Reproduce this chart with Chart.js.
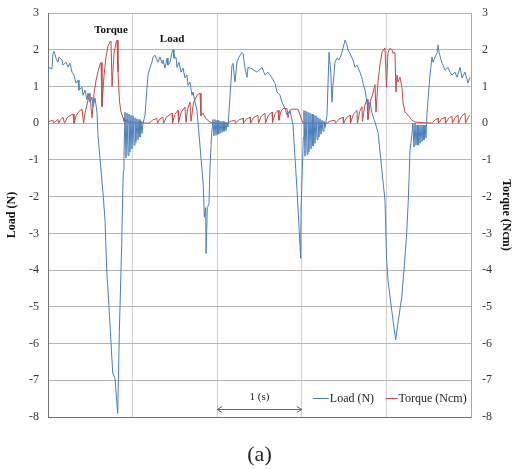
<!DOCTYPE html>
<html>
<head>
<meta charset="utf-8">
<script src="https://cdn.jsdelivr.net/npm/chart.js@4/dist/chart.umd.min.js"></script>
<style>
  html, body { margin: 0; padding: 0; background: #fff; }
  #wrap { width: 513px; height: 469px; }
</style>
</head>
<body>
<div id="wrap"><canvas id="chart" width="513" height="469"></canvas></div>
<script>
'use strict';

// ── Data (time in s, load in N, torque in Ncm) ──
const loadTime = [
  0.000, 0.006, 0.047, 0.059, 0.071, 0.095, 0.118, 0.130, 0.165, 0.177, 0.213, 0.236, 0.260, 0.284,
  0.307, 0.331, 0.355, 0.366, 0.402, 0.414, 0.437, 0.461, 0.473, 0.496, 0.520, 0.532, 0.556, 0.579,
  0.591, 0.650, 0.674, 0.694, 0.721, 0.765, 0.792, 0.824, 0.843, 0.871, 0.881, 0.890, 0.898,
  0.910, 0.922, 0.934, 0.946, 0.957, 0.969, 0.981, 0.993, 1.005, 1.017, 1.028, 1.040, 1.052, 1.064,
  1.076, 1.087, 1.099, 1.111, 1.123,
  1.147, 1.170, 1.182, 1.206, 1.229, 1.241, 1.265, 1.288, 1.300, 1.324, 1.348, 1.359, 1.383, 1.407,
  1.418, 1.442, 1.466, 1.478, 1.489, 1.513, 1.525, 1.548, 1.572, 1.596, 1.619, 1.643, 1.655, 1.678,
  1.702, 1.714, 1.738, 1.761, 1.773,
  1.836, 1.848, 1.864, 1.868, 1.883, 1.903, 1.915, 1.935, 1.950,
  1.962, 1.974, 1.986, 1.998, 2.009, 2.021, 2.033, 2.045, 2.057, 2.069, 2.080, 2.092, 2.104, 2.116, 2.128,
  2.175, 2.187, 2.210, 2.234, 2.258, 2.293, 2.305, 2.329, 2.352, 2.364, 2.411, 2.470, 2.530, 2.565,
  2.600, 2.648, 2.683, 2.707, 2.742, 2.766, 2.801, 2.825, 2.860, 2.896,
  2.943, 2.987, 2.991, 3.006, 3.018,
  3.026, 3.038, 3.050, 3.062, 3.073, 3.085, 3.097, 3.109, 3.121, 3.132, 3.144, 3.156, 3.168, 3.180,
  3.191, 3.203, 3.215, 3.227, 3.239, 3.251, 3.262, 3.274,
  3.298, 3.322, 3.345, 3.357, 3.369, 3.392, 3.416, 3.440, 3.463, 3.487, 3.511, 3.534, 3.546, 3.570,
  3.605, 3.629, 3.652, 3.688, 3.711, 3.723, 3.747, 3.771, 3.782, 3.806, 3.830, 3.865, 3.901,
  3.983, 4.003, 4.019, 4.063, 4.110, 4.141, 4.181, 4.208, 4.240, 4.259, 4.279, 4.302,
  4.314, 4.326, 4.338, 4.350, 4.362, 4.373, 4.385, 4.397, 4.409, 4.421, 4.433, 4.444, 4.456, 4.468,
  4.480, 4.515, 4.539, 4.551, 4.574, 4.598, 4.610, 4.622, 4.657, 4.669, 4.693, 4.728, 4.752, 4.775,
  4.811, 4.835, 4.870, 4.894, 4.929, 4.965, 4.988
];
const loadValue = [
  1.39, 1.52, 1.48, 1.90, 1.96, 1.77, 1.66, 1.80, 1.72, 1.58, 1.66, 1.53, 1.63, 1.39,
  1.31, 1.09, 1.17, 0.90, 0.98, 0.76, 0.90, 0.63, 0.82, 0.57, 0.71, 0.44, 0.68, 0.30,
  -0.33, -1.90, -2.64, -4.00, -5.00, -6.80, -6.95, -7.90, -5.70, -3.30, -2.10, -1.30, -0.90,
  0.30, -0.95, 0.28, -0.88, 0.25, -0.78, 0.22, -0.70, 0.20, -0.60, 0.15, -0.52, 0.12, -0.45,
  0.10, -0.38, 0.06, -0.28, 0.00,
  0.22, 0.95, 1.31, 1.52, 1.66, 1.80, 1.85, 1.72, 1.66, 1.80, 1.63, 1.72, 1.50, 1.77,
  1.58, 1.66, 1.93, 2.00, 1.77, 1.80, 1.52, 1.66, 1.39, 1.50, 1.23, 1.31, 1.03, 1.12,
  0.76, 0.85, 0.57, 0.35, 0.03,
  -1.70, -2.56, -2.30, -3.55, -2.30, -2.20, -1.20, -0.27, 0.10,
  -0.35, 0.10, -0.33, 0.08, -0.30, 0.07, -0.28, 0.05, -0.25, 0.05, -0.22, 0.03, -0.20, 0.02, -0.10,
  1.58, 1.63, 1.12, 1.66, 1.80, 1.93, 1.90, 1.50, 1.25, 1.52, 1.48, 1.39, 1.52, 1.31,
  1.39, 1.23, 1.09, 0.85, 0.76, 0.57, 0.40, 0.22, 0.35, -0.05,
  -1.80, -3.68, -2.37, -1.28, -0.38,
  0.35, -0.90, 0.33, -0.85, 0.30, -0.78, 0.28, -0.70, 0.25, -0.62, 0.22, -0.55, 0.20, -0.45,
  0.15, -0.38, 0.12, -0.30, 0.08, -0.22, 0.05, -0.12,
  0.22, 1.93, 1.30, 0.57, 1.03, 1.66, 1.77, 1.72, 1.85, 2.04, 2.26, 2.13, 2.00, 1.90,
  1.72, 1.52, 1.58, 1.39, 1.23, 1.09, 0.90, 0.57, 0.49, 0.57, 0.27, 0.03, -0.25,
  -2.10, -3.73, -4.28, -5.10, -5.90, -5.37, -4.74, -4.00, -3.00, -2.10, -0.74, -0.30,
  0.00, -0.65, 0.00, -0.60, -0.05, -0.60, -0.05, -0.55, -0.05, -0.50, -0.05, -0.45, -0.05, -0.40,
  0.27, 1.31, 1.80, 1.66, 1.80, 1.90, 2.13, 1.93, 1.63, 1.58, 1.44, 1.52, 1.39, 1.31,
  1.39, 1.25, 1.52, 1.23, 1.39, 1.09, 1.25
];

const torqueTime = [
  0.000, 0.030, 0.059, 0.065, 0.095, 0.118, 0.125, 0.150, 0.177, 0.195, 0.225, 0.260, 0.296, 0.307,
  0.335, 0.370, 0.402, 0.420, 0.440, 0.473, 0.496, 0.508, 0.520, 0.544, 0.567, 0.591, 0.615, 0.627,
  0.638, 0.662, 0.686, 0.709, 0.733, 0.745, 0.757, 0.780, 0.804, 0.816, 0.827, 0.845, 0.863, 0.887,
  0.898, 0.910, 0.922, 0.934, 0.946, 0.969, 0.981, 1.005, 1.028, 1.087, 1.147,
  1.194, 1.240, 1.288, 1.294, 1.320, 1.359, 1.365, 1.405, 1.466, 1.472, 1.500, 1.537, 1.543, 1.575,
  1.619, 1.631, 1.650, 1.678, 1.690, 1.720, 1.761, 1.797, 1.808, 1.832, 1.868, 1.915, 1.950,
  2.128, 2.170, 2.210, 2.216, 2.255, 2.305, 2.311, 2.345, 2.388, 2.394, 2.430, 2.482, 2.488, 2.520,
  2.565, 2.571, 2.605, 2.648, 2.654, 2.685, 2.719, 2.730, 2.750, 2.778, 2.825, 2.837, 2.855, 2.872,
  2.955, 3.014,
  3.298, 3.340, 3.392, 3.398, 3.440, 3.487, 3.493, 3.530, 3.570, 3.576, 3.610, 3.652, 3.658, 3.685,
  3.711, 3.717, 3.745, 3.771, 3.782, 3.810, 3.842, 3.865, 3.877, 3.900, 3.924, 3.948, 3.983, 4.001,
  4.019, 4.042, 4.066, 4.078, 4.101, 4.113, 4.125, 4.137, 4.161, 4.184, 4.196, 4.220, 4.255, 4.302,
  4.338,
  4.539, 4.575, 4.610, 4.616, 4.650, 4.693, 4.699, 4.735, 4.775, 4.781, 4.810, 4.846, 4.852, 4.890,
  4.929, 4.935, 4.965, 4.988
];
const torqueValue = [
  0.03, 0.06, 0.08, 0.00, 0.07, 0.10, 0.00, 0.10, 0.16, 0.00, 0.14, 0.21, 0.25, 0.00,
  0.22, 0.33, 0.38, 0.00, 0.30, 0.62, 0.82, 0.45, 0.15, 0.80, 1.15, 1.40, 1.60, 1.65,
  0.45, 1.30, 1.80, 2.10, 2.22, 2.23, 1.00, 1.90, 2.20, 2.26, 1.40, 0.60, 0.30, 0.15,
  0.05, 0.12, 0.03, 0.10, 0.02, 0.07, 0.01, 0.05, 0.00, 0.02, 0.00,
  0.00, 0.09, 0.13, 0.00, 0.11, 0.16, 0.00, 0.18, 0.27, 0.00, 0.24, 0.35, 0.02, 0.30,
  0.44, 0.02, 0.38, 0.57, 0.05, 0.55, 0.76, 0.82, 0.20, 0.27, 0.12, 0.03, 0.00,
  0.00, 0.06, 0.08, 0.00, 0.09, 0.13, 0.00, 0.11, 0.16, 0.00, 0.15, 0.22, 0.00, 0.19,
  0.27, 0.00, 0.22, 0.30, 0.02, 0.26, 0.35, 0.08, 0.30, 0.40, 0.40, 0.15, 0.33, 0.38,
  0.38, 0.00,
  0.00, 0.06, 0.08, 0.00, 0.11, 0.16, 0.00, 0.15, 0.22, 0.00, 0.24, 0.35, 0.00, 0.32,
  0.45, 0.05, 0.48, 0.65, 0.10, 0.60, 0.82, 1.05, 0.30, 1.10, 1.58, 1.93, 2.05, 0.98,
  1.93, 2.04, 2.00, 1.90, 1.93, 0.85, 1.31, 1.12, 1.25, 0.98, 0.57, 0.30, 0.22, 0.08,
  0.03,
  0.00, 0.09, 0.13, 0.00, 0.11, 0.16, 0.00, 0.13, 0.19, 0.00, 0.15, 0.22, 0.00, 0.19,
  0.27, 0.00, 0.15, 0.22
];

const SERIF = '"Liberation Serif", "Times New Roman", serif';
const LOAD_COLOR = '#4a7ebb';
const TORQUE_COLOR = '#be4b48';

const loadPoints = loadTime.map((t, i) => ({ x: t, y: loadValue[i] }));
const torquePoints = torqueTime.map((t, i) => ({ x: t, y: torqueValue[i] }));

// Labels drawn inside the plot: curve names, the 1 s marker and the legend
const overlayPlugin = {
  id: 'overlay',
  afterDatasetsDraw(chart) {
    const { ctx, scales: { x, y } } = chart;
    ctx.save();

    // curve names
    ctx.fillStyle = '#111';
    ctx.font = 'bold 11px ' + SERIF;
    ctx.textAlign = 'center';
    ctx.textBaseline = 'middle';
    ctx.fillText('Torque', x.getPixelForValue(0.745), y.getPixelForValue(2.53));
    ctx.fillText('Load', x.getPixelForValue(1.466), y.getPixelForValue(2.29));

    // 1 second marker
    const ax1 = x.getPixelForValue(2), ax2 = x.getPixelForValue(3);
    const ay = Math.round(y.getPixelForValue(-7.79)) + 0.5;
    ctx.strokeStyle = '#666';
    ctx.lineWidth = 1;
    ctx.beginPath();
    ctx.moveTo(ax1, ay); ctx.lineTo(ax2, ay);
    ctx.moveTo(ax1 + 5, ay - 3); ctx.lineTo(ax1, ay); ctx.lineTo(ax1 + 5, ay + 3);
    ctx.moveTo(ax2 - 5, ay - 3); ctx.lineTo(ax2, ay); ctx.lineTo(ax2 - 5, ay + 3);
    ctx.stroke();
    ctx.font = '11px ' + SERIF;
    ctx.fillStyle = '#222';
    ctx.fillText('1 (s)', x.getPixelForValue(2.5), y.getPixelForValue(-7.47));

    // legend (line sample + label for each series)
    const ly = Math.round(y.getPixelForValue(-7.47)) + 0.5;
    const items = [
      { start: 3.13, len: 16 },
      { start: 3.99, len: 12 }
    ];
    ctx.font = '12px ' + SERIF;
    ctx.textAlign = 'left';
    chart.data.datasets.forEach((ds, i) => {
      const lx = x.getPixelForValue(items[i].start);
      ctx.strokeStyle = ds.borderColor;
      ctx.beginPath();
      ctx.moveTo(lx, ly); ctx.lineTo(lx + items[i].len, ly);
      ctx.stroke();
      ctx.fillText(ds.label, lx + items[i].len + 1, ly);
    });

    ctx.restore();
  }
};

const tickFont = { family: SERIF, size: 12 };
const titleFont = { family: SERIF, size: 12, weight: 'bold' };

// fixed axis widths; drop the tick-label padding so the plot top sits where the figure has it
const fixWidth = (w) => (scale) => {
  scale.width = w;
  scale.paddingTop = 0;
  scale.paddingBottom = 0;
};

new Chart(document.getElementById('chart'), {
  type: 'line',
  data: {
    datasets: [
      {
        label: 'Load (N)',
        data: loadPoints,
        borderColor: LOAD_COLOR,
        borderWidth: 1,
        pointRadius: 0,
        tension: 0,
        yAxisID: 'y'
      },
      {
        label: 'Torque (Ncm)',
        data: torquePoints,
        borderColor: TORQUE_COLOR,
        borderWidth: 1,
        pointRadius: 0,
        tension: 0,
        yAxisID: 'y1'
      }
    ]
  },
  options: {
    responsive: false,
    animation: false,
    layout: { padding: { top: 13, left: 0, right: 0, bottom: 0 } },
    plugins: { legend: { display: false }, tooltip: { enabled: false } },
    scales: {
      x: {
        type: 'linear',
        min: 0,
        max: 5,
        ticks: { display: false, stepSize: 1 },
        grid: { color: '#d0d0d0', drawTicks: false },
        border: { color: '#707070' },
        title: { display: true, text: '(a)', color: '#222', font: { family: SERIF, size: 22 }, padding: { top: 0, bottom: 1 } },
        afterFit(scale) { scale.height = 52; }
      },
      y: {
        position: 'left',
        min: -8,
        max: 3,
        ticks: { stepSize: 1, padding: 9, color: '#333', font: tickFont },
        grid: { color: '#b4b4b4', drawTicks: false },
        border: { color: '#707070' },
        title: { display: true, text: 'Load (N)', color: '#111', font: titleFont, padding: { top: 5, bottom: 0 } },
        afterFit: fixWidth(48)
      },
      y1: {
        position: 'right',
        min: -8,
        max: 3,
        ticks: { stepSize: 1, padding: 11, color: '#333', font: tickFont },
        grid: { display: false, drawTicks: false },
        border: { color: '#a8a8a8' },
        title: { display: true, text: 'Torque (Ncm)', color: '#111', font: titleFont, padding: { top: 0, bottom: 0 } },
        afterFit: fixWidth(42)
      }
    }
  },
  plugins: [overlayPlugin]
});
</script>
</body>
</html>
